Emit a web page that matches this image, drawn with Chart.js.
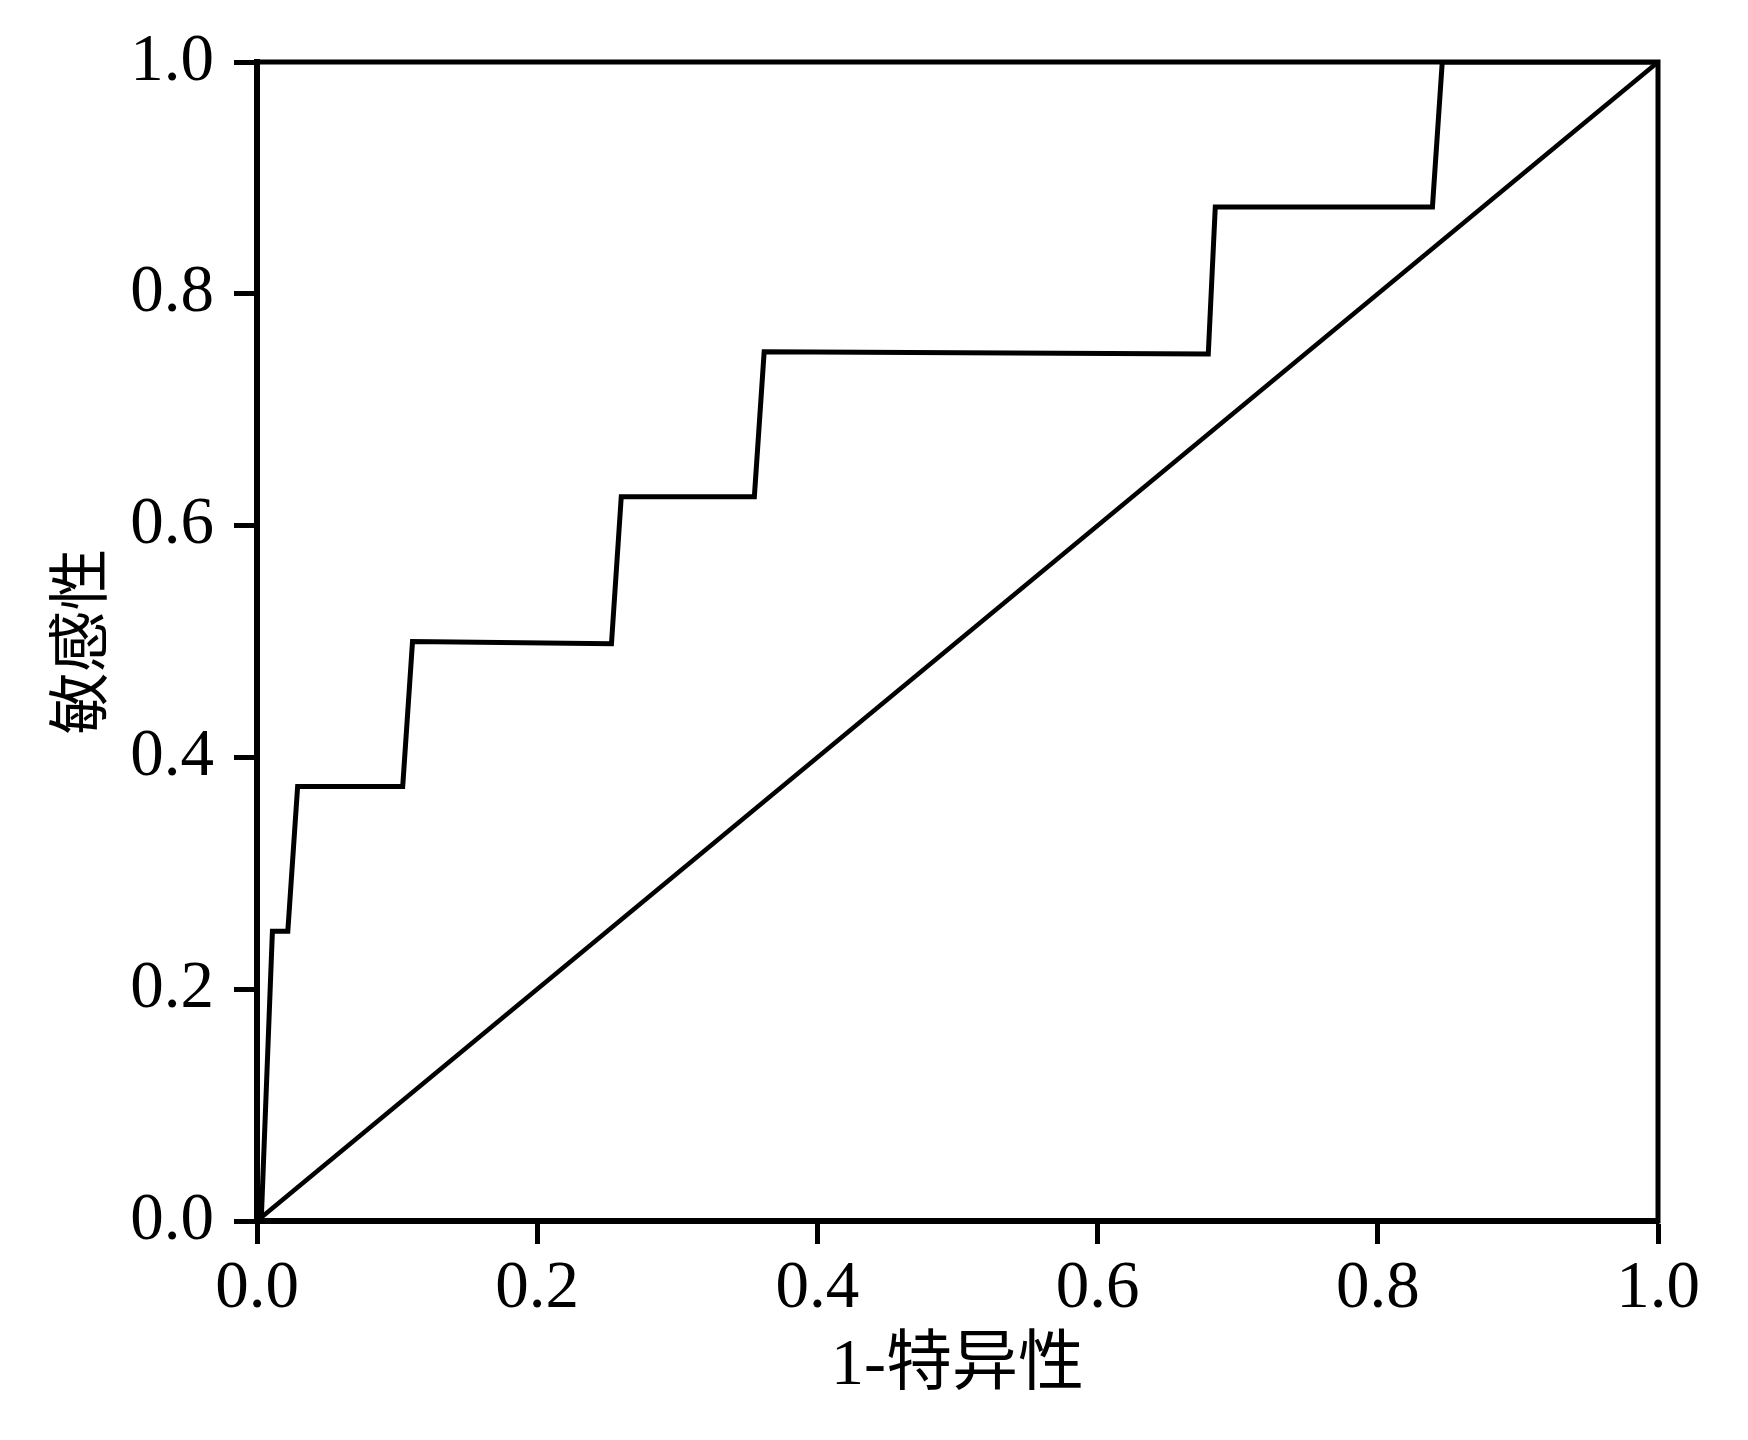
<!DOCTYPE html>
<html>
<head>
<meta charset="utf-8">
<script src="https://cdn.jsdelivr.net/npm/chart.js@4/dist/chart.umd.min.js"></script>
<style>
  html, body { margin: 0; padding: 0; background: #fff; }
  #wrap { width: 1748px; height: 1440px; }
</style>
</head>
<body>
<div id="wrap"><canvas id="roc" width="1748" height="1440"></canvas></div>
<script>
// ROC curve
const rocFpr = [0, 0.003, 0.011, 0.022, 0.029, 0.104, 0.111, 0.253, 0.260, 0.355, 0.362, 0.679, 0.684, 0.839, 0.846, 1.0];
const rocTpr = [0, 0,     0.25,  0.25,  0.375, 0.375, 0.5,   0.498, 0.625, 0.625, 0.75,  0.748, 0.875, 0.875, 1.0,   1.0];

// chance line
const refFpr = [0, 1];
const refTpr = [0, 1];

const xTitle = "1-特异性";
const yTitle = "敏感性";

const serif   = "'Liberation Serif', 'Times New Roman', serif";
const cjk     = "'Liberation Serif', 'Noto Sans CJK SC', serif";
const tickFont = { size: 67, family: serif };

// box around the plot area (top + right edges)
const frame = {
  id: "frame",
  afterDraw(chart) {
    const { ctx, chartArea: a } = chart;
    ctx.save();
    ctx.strokeStyle = "#000";
    ctx.lineWidth = 5;
    ctx.strokeRect(a.left, a.top, a.right - a.left, a.bottom - a.top);
    ctx.restore();
  }
};

const axisBase = {
  type: "linear",
  min: 0,
  max: 1,
  border: { display: true, color: "#000", width: 6 },
  grid: {
    display: true,
    drawOnChartArea: false,
    drawTicks: true,
    tickLength: 23,
    tickWidth: 5,
    tickColor: "#000"
  }
};

new Chart(document.getElementById("roc"), {
  type: "line",
  data: {
    datasets: [
      {
        data: rocFpr.map((x, i) => ({ x, y: rocTpr[i] })),
        borderColor: "#000",
        borderWidth: 5,
        borderJoinStyle: "miter",
        pointRadius: 0,
        tension: 0,
        fill: false
      },
      {
        data: refFpr.map((x, i) => ({ x, y: refTpr[i] })),
        borderColor: "#000",
        borderWidth: 4.5,
        pointRadius: 0,
        tension: 0,
        fill: false
      }
    ]
  },
  options: {
    responsive: false,
    animation: false,
    devicePixelRatio: 1,
    layout: { padding: { left: 40, top: 62, right: 90, bottom: 20 } },
    plugins: { legend: { display: false }, tooltip: { enabled: false } },
    scales: {
      x: {
        ...axisBase,
        position: "bottom",
        afterFit: s => { s.height = 199; },
        ticks: {
          stepSize: 0.2,
          color: "#000",
          font: tickFont,
          padding: 5,
          maxRotation: 0,
          callback: v => v.toFixed(1)
        },
        title: {
          display: true,
          text: xTitle,
          color: "#000",
          font: { size: 66, family: cjk },
          padding: { top: 0, bottom: 14 }
        }
      },
      y: {
        ...axisBase,
        position: "left",
        afterFit: s => { s.width = 217; },
        ticks: {
          stepSize: 0.2,
          color: "#000",
          font: tickFont,
          padding: 20,
          callback: v => v.toFixed(1)
        },
        title: {
          display: true,
          text: yTitle,
          color: "#000",
          font: { size: 62, family: cjk },
          padding: { top: 9, bottom: 0 }
        }
      }
    }
  },
  plugins: [frame]
});
</script>
</body>
</html>
